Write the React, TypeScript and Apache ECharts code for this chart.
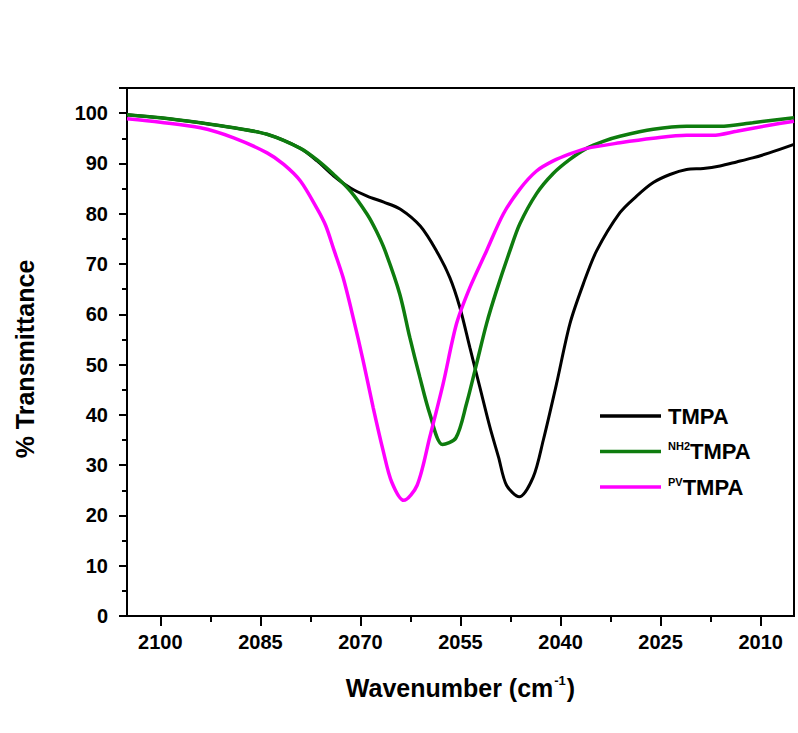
import React, { useEffect, useRef } from "react";
import * as echarts from "echarts";

// ---- data ----
const tmpaWave = [2105, 2100, 2094, 2089, 2084, 2079, 2076.5, 2074, 2071.5, 2069, 2066.5, 2064, 2061, 2058.6, 2056.6, 2055.1, 2053.6, 2052.1, 2050.6, 2049.3, 2048.1, 2046.2, 2044.1, 2042.6, 2040.6, 2038.6, 2036.6, 2034.6, 2031.1, 2028.6, 2026.1, 2023.6, 2021.1, 2018.6, 2016.1, 2013.6, 2011.2, 2008.7, 2005];
const tmpaT = [99.7, 99.1, 98.1, 97.1, 95.8, 93.0, 90.5, 87.5, 85.1, 83.5, 82.3, 80.9, 77.5, 72.6, 67.3, 61.4, 53.4, 45.5, 37.6, 31.6, 26.0, 23.7, 27.6, 34.9, 46.2, 58.1, 66.0, 72.6, 80.2, 83.5, 86.2, 87.8, 88.8, 89.0, 89.5, 90.3, 91.1, 92.1, 93.8];

const nh2Wave = [2105, 2100, 2094, 2089, 2084, 2079, 2076.5, 2074, 2071.5, 2069, 2067.6, 2066.3, 2064.1, 2062.6, 2061.1, 2059.6, 2057.7, 2055.7, 2054.1, 2052.6, 2051.1, 2049.6, 2047.6, 2046.1, 2043.6, 2041.1, 2038.6, 2036.1, 2033.6, 2031.1, 2026.1, 2021.1, 2016.1, 2011.2, 2005];
const nh2T = [99.7, 99.1, 98.1, 97.1, 95.8, 93.0, 90.7, 87.8, 84.5, 79.9, 76.5, 72.6, 64.0, 55.4, 47.5, 40.2, 34.1, 35.4, 42.2, 50.1, 58.1, 64.7, 72.6, 78.0, 84.0, 88.0, 90.8, 93.0, 94.4, 95.4, 96.8, 97.4, 97.4, 98.1, 99.1];

const pvWave = [2105, 2100, 2094, 2089, 2084, 2081.5, 2079, 2076.5, 2075.2, 2074, 2072.6, 2071.1, 2069.6, 2068.1, 2066.6, 2065.3, 2063.5, 2061.5, 2059.6, 2057.6, 2055.6, 2053.6, 2051.1, 2048.6, 2046.1, 2043.6, 2041.1, 2038.6, 2036.1, 2031.1, 2026.1, 2021.1, 2017.2, 2013.6, 2008.7, 2005];
const pvT = [98.9, 98.2, 97.1, 95.1, 92.1, 89.8, 86.5, 81.0, 77.6, 72.9, 67.3, 59.4, 50.8, 41.5, 32.9, 26.6, 23.0, 26.0, 35.6, 46.2, 58.1, 65.3, 72.6, 79.9, 84.9, 88.5, 90.5, 91.9, 93.0, 94.1, 95.0, 95.6, 95.6, 96.4, 97.6, 98.4];

const seriesNames = ["TMPA", "NH2TMPA", "PVTMPA"];
const xMajorTicks = [2100, 2085, 2070, 2055, 2040, 2025, 2010];
const xMinorTicks = [2092.5, 2077.5, 2062.5, 2047.5, 2032.5, 2017.5];
const yLabels = [0, 10, 20, 30, 40, 50, 60, 70, 80, 90, 100];
const yMajorTicks = [0, 10, 20, 30, 40, 50, 60, 70, 80, 90, 100, 105];
const yMinorTicks = [5, 15, 25, 35, 45, 55, 65, 75, 85, 95];

const FONT = 'Arial, "Liberation Sans", Helvetica, sans-serif';

const pair = (w: number[], t: number[]) => w.map((x, i) => [x, t[i]]);

export default function App() {
  const ref = useRef<HTMLDivElement>(null);

  useEffect(() => {
    if (!ref.current) return;
    const chart = echarts.init(ref.current, undefined, { renderer: "svg" });
    const axisColor = "#000";

    const minorAxisBase = {
      type: "value",
      axisLine: { show: false, onZero: false },
      splitLine: { show: false },
    };

    const option: any = {
      animation: false,
      backgroundColor: "#ffffff",
      grid: {
        left: 127,
        right: 4,
        top: 88,
        bottom: 117,
        show: true,
        borderColor: "#000",
        borderWidth: 2,
        backgroundColor: "transparent",
        containLabel: false,
        outerBoundsMode: "none",
      },
      legend: {
        orient: "vertical",
        left: 600,
        top: 405,
        padding: 0,
        icon: "rect",
        itemWidth: 61,
        itemHeight: 3.5,
        itemGap: 11.5,
        data: seriesNames,
        formatter: (n: string) => {
          if (n === "NH2TMPA") return "{s|NH2}{b|TMPA}";
          if (n === "PVTMPA") return "{s|PV}{b|TMPA}";
          return "{b|TMPA}";
        },
        textStyle: {
          padding: [0, 0, 0, 2],
          rich: {
            b: { fontSize: 22, fontWeight: "bold", fontFamily: FONT, color: "#000", lineHeight: 26 },
            s: { fontSize: 11, fontWeight: "bold", fontFamily: FONT, color: "#000", lineHeight: 12, verticalAlign: "top", padding: [2, 0, 0, 0] },
          },
        },
      },
      xAxis: [
        {
          type: "value",
          min: 2005,
          max: 2105,
          inverse: true,
          position: "bottom",
          name: "{a|Wavenumber (cm}{s|-1}{a|)}",
          nameLocation: "middle",
          nameGap: 57,
          nameTextStyle: {
            rich: {
              a: { fontSize: 25, fontWeight: "bold", fontFamily: FONT, color: "#000", lineHeight: 30 },
              s: { fontSize: 13, fontWeight: "bold", fontFamily: FONT, color: "#000", lineHeight: 14, verticalAlign: "top", padding: [1, 1, 0, 1] },
            },
          },
          axisLine: { show: true, onZero: false, lineStyle: { color: axisColor, width: 2 } },
          axisTick: { show: true, inside: false, length: 10, customValues: xMajorTicks, lineStyle: { color: axisColor, width: 2 } },
          axisLabel: {
            customValues: xMajorTicks,
            margin: 16,
            color: "#000",
            fontSize: 20,
            fontWeight: "bold",
            fontFamily: FONT,
            formatter: (v: number) => String(v),
          },
          splitLine: { show: false },
          minorTick: { show: false },
        },
        {
          ...minorAxisBase,
          min: 2005,
          max: 2105,
          inverse: true,
          position: "bottom",
          axisTick: { show: true, inside: false, length: 6, customValues: xMinorTicks, lineStyle: { color: axisColor, width: 2 } },
          axisLabel: { show: true, customValues: xMinorTicks, formatter: () => "", fontSize: 1 },
        },
      ],
      yAxis: [
        {
          type: "value",
          min: 0,
          max: 105,
          position: "left",
          name: "% Transmittance",
          nameLocation: "middle",
          nameGap: 90,
          nameTextStyle: { fontSize: 25, fontWeight: "bold", fontFamily: FONT, color: "#000", padding: [0, 14, 0, 0] },
          axisLine: { show: true, onZero: false, lineStyle: { color: axisColor, width: 2 } },
          axisTick: { show: true, inside: false, length: 8, customValues: yMajorTicks, lineStyle: { color: axisColor, width: 2 } },
          axisLabel: {
            customValues: yLabels,
            margin: 19,
            color: "#000",
            fontSize: 20,
            fontWeight: "bold",
            fontFamily: FONT,
            formatter: (v: number) => String(v),
          },
          splitLine: { show: false },
        },
        {
          ...minorAxisBase,
          min: 0,
          max: 105,
          position: "left",
          axisTick: { show: true, inside: false, length: 5, customValues: yMinorTicks, lineStyle: { color: axisColor, width: 2 } },
          axisLabel: { show: true, customValues: yMinorTicks, formatter: () => "", fontSize: 1 },
        },
      ],
      series: [
        {
          name: seriesNames[0],
          type: "line",
          data: pair(tmpaWave, tmpaT),
          symbol: "none",
          smooth: 0.3,
          xAxisIndex: 0,
          yAxisIndex: 0,
          lineStyle: { color: "#000000", width: 3 },
          itemStyle: { color: "#000000" },
        },
        {
          name: seriesNames[1],
          type: "line",
          data: pair(nh2Wave, nh2T),
          symbol: "none",
          smooth: 0.3,
          xAxisIndex: 0,
          yAxisIndex: 0,
          lineStyle: { color: "#0e7c0e", width: 3.5 },
          itemStyle: { color: "#0e7c0e" },
        },
        {
          name: seriesNames[2],
          type: "line",
          data: pair(pvWave, pvT),
          symbol: "none",
          smooth: 0.3,
          xAxisIndex: 0,
          yAxisIndex: 0,
          lineStyle: { color: "#ff00ff", width: 3.5 },
          itemStyle: { color: "#ff00ff" },
        },
      ],
    };

    chart.setOption(option);
    return () => chart.dispose();
  }, []);

  return (
    <div
      ref={ref}
      style={{ position: "absolute", left: 0, top: 0, width: 798, height: 733, background: "#fff" }}
    />
  );
}
